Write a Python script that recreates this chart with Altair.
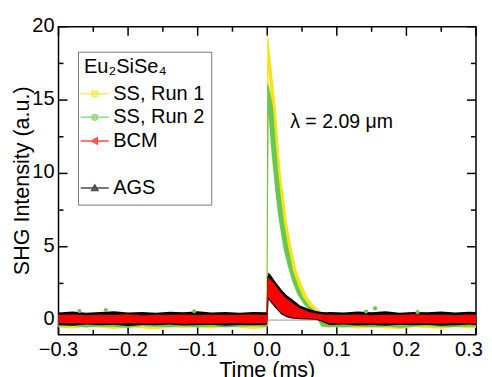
import altair as alt
import pandas as pd

FONT = "Liberation Sans"

# ---------------- data ----------------
SERIES = ["SS, Run 1", "SS, Run 2", "BCM", " ", "AGS"]
COLORS = ["#f7e21b", "#66c84f", "#ff0000", "transparent", "#000000"]
SHAPES = [
    "M-2,0H2M-0.4,-0.4H0.4V0.4H-0.4Z",
    "M-2,0H2M0.4,0A0.4,0.4,0,1,1,-0.4,0A0.4,0.4,0,1,1,0.4,0Z",
    "M-2,0H2M-0.45,0L0.35,-0.45L0.35,0.45Z",
    "M0,0",
    "M-2,0H2M0,-0.45L0.45,0.35L-0.45,0.35Z",
]
LEGEND_TITLE = "Eu\u2082SiSe\u2084"

# time grid of the noisy baselines (ms)
T_LEFT = [-0.30, -0.28, -0.26, -0.24, -0.22, -0.20, -0.18, -0.16, -0.14, -0.12,
          -0.10, -0.08, -0.06, -0.04, -0.02, -0.001]
T_RIGHT = [0.09, 0.11, 0.13, 0.15, 0.17, 0.19, 0.21, 0.23, 0.25, 0.27, 0.29, 0.30]

# SS, Run 1 (yellow): upper / lower envelope of the noisy trace
Y1_L_HI = [0.36, 0.31, 0.38, 0.30, 0.35, 0.33, 0.37, 0.31, 0.34, 0.36, 0.30, 0.35, 0.33, 0.38, 0.32, 0.35]
Y1_L_LO = [-0.50, -0.57, -0.47, -0.53, -0.60, -0.49, -0.55, -0.62, -0.48, -0.54, -0.51, -0.58, -0.46, -0.53, -0.60, -0.50]
Y1_D_T = [0.0, 0.002, 0.006, 0.012, 0.019, 0.028, 0.035, 0.042, 0.050, 0.058, 0.066, 0.075, 0.082]
Y1_D_HI = [19.5, 19.1, 17.2, 14.6, 10.2, 6.8, 4.9, 3.4, 2.4, 1.55, 1.05, 0.65, 0.45]
Y1_D_LO = [-0.5, 17.0, 14.0, 10.0, 7.0, 4.6, 3.3, 2.3, 1.5, 1.0, 0.6, 0.2, -0.50]
Y1_R_HI = [0.34, 0.37, 0.31, 0.36, 0.33, 0.38, 0.30, 0.35, 0.32, 0.37, 0.34, 0.33]
Y1_R_LO = [-0.52, -0.47, -0.58, -0.50, -0.55, -0.61, -0.48, -0.54, -0.59, -0.49, -0.56, -0.52]

# SS, Run 2 (green)
G_L_HI = [0.40, 0.44, 0.38, 0.42, 0.41, 0.37, 0.43, 0.39, 0.36, 0.44, 0.40, 0.38, 0.42, 0.37, 0.41, 0.39]
G_L_LO = [-0.45, -0.40, -0.50, -0.43, -0.47, -0.52, -0.41, -0.46, -0.49, -0.42, -0.48, -0.44, -0.51, -0.45, -0.40, -0.47]
G_D_T = [0.0, 0.002, 0.005, 0.008, 0.0115, 0.0155, 0.020, 0.0237, 0.030, 0.037, 0.044, 0.0515, 0.060, 0.068, 0.078]
G_D_HI = [16.2, 16.0, 15.3, 14.6, 12.5, 10.2, 8.2, 6.8, 5.0, 3.4, 2.4, 1.55, 1.0, 0.65, 0.45]
G_D_LO = [-0.45, 14.0, 12.0, 10.5, 8.8, 7.2, 5.8, 4.8, 3.6, 2.5, 1.7, 1.15, 0.7, 0.4, -0.45]
G_R_HI = [0.41, 0.38, 0.43, 0.39, 0.42, 0.37, 0.40, 0.44, 0.38, 0.41, 0.39, 0.40]
G_R_LO = [-0.46, -0.50, -0.42, -0.48, -0.44, -0.52, -0.45, -0.41, -0.49, -0.47, -0.43, -0.46]

# AGS (black)
K_L_HI = [0.52, 0.58, 0.50, 0.55, 0.60, 0.52, 0.56, 0.50, 0.57, 0.53, 0.61, 0.52, 0.55, 0.50, 0.56, 0.54]
K_L_LO = [-0.33, -0.38, -0.30, -0.35, -0.32, -0.40, -0.33, -0.36, -0.30, -0.37, -0.34, -0.31, -0.38, -0.33, -0.35, -0.32]
K_D_T = [0.0, 0.002, 0.006, 0.012, 0.020, 0.028, 0.035, 0.047, 0.060, 0.070, 0.078, 0.085]
K_D_HI = [2.9, 3.25, 3.0, 2.6, 2.1, 1.7, 1.45, 1.0, 0.75, 0.62, 0.56, 0.54]
K_D_LO = [-0.32, 1.4, 1.15, 0.8, 0.4, 0.2, 0.1, 0.06, 0.04, 0.02, -0.10, -0.25]
K_R_HI = [0.55, 0.51, 0.58, 0.53, 0.60, 0.50, 0.56, 0.54, 0.59, 0.52, 0.57, 0.55]
K_R_LO = [-0.34, -0.30, -0.37, -0.33, -0.39, -0.31, -0.36, -0.32, -0.38, -0.35, -0.30, -0.34]

# BCM (red)
R_L_HI = [0.35, 0.38, 0.33, 0.36, 0.34, 0.39, 0.32, 0.36, 0.35, 0.38, 0.33, 0.37, 0.34, 0.36, 0.38, 0.35]
R_L_LO = [-0.22, -0.20, -0.25, -0.21, -0.23, -0.19, -0.24, -0.22, -0.20, -0.25, -0.21, -0.23, -0.19, -0.22, -0.24, -0.21]
R_D_T = [0.0, 0.001, 0.006, 0.012, 0.020, 0.028, 0.035, 0.047, 0.060, 0.070, 0.078, 0.085]
R_D_HI = [2.6, 2.9, 2.7, 2.35, 1.85, 1.45, 1.2, 0.8, 0.55, 0.45, 0.40, 0.37]
R_D_LO = [-0.21, 1.55, 1.28, 0.92, 0.5, 0.3, 0.19, 0.13, 0.10, 0.08, -0.02, -0.15]
R_R_HI = [0.36, 0.34, 0.38, 0.33, 0.37, 0.35, 0.39, 0.34, 0.36, 0.33, 0.38, 0.35]
R_R_LO = [-0.22, -0.24, -0.20, -0.23, -0.21, -0.25, -0.19, -0.22, -0.24, -0.20, -0.23, -0.21]

# isolated green points above the baseline band
OUT_T = [-0.27, -0.232, -0.105, 0.142, 0.155, 0.216]
OUT_Y = [0.62, 0.68, 0.60, 0.58, 0.80, 0.55]

# peak of each trace (carries the legend)
PEAK_SERIES = ["SS, Run 1", "SS, Run 2", "BCM", "AGS"]
PEAK_T = [0.001, 0.001, 0.001, 0.002]
PEAK_Y = [19.5, 16.2, 2.9, 3.25]

ZERO = [0.0]

ANN_T = [0.033]
ANN_Y = [13.5]
ANN_TEXT = ["\u03bb = 2.09 \u03bcm"]

# axes: ticks, tick labels and titles
X_MAJOR = [-0.3, -0.2, -0.1, 0.0, 0.1, 0.2, 0.3]
X_LABELS = ["\u22120.3", "\u22120.2", "\u22120.1", "0.0", "0.1", "0.2", "0.3"]
X_MINOR = [-0.25, -0.15, -0.05, 0.05, 0.15, 0.25]
Y_MAJOR = [0, 5, 10, 15, 20]
Y_LABELS = ["0", "5", "10", "15", "20"]
Y_MINOR = [2.5, 7.5, 12.5, 17.5]
X_DOMAIN = [-0.3, 0.3]
Y_DOMAIN = [-1.0, 20.0]
X_TITLE = "Time (ms)"
Y_TITLE = "SHG Intensity (a.u.)"

# the page shrinks the chart by S to fit its width; every pixel size is given as px / S
S = 0.98


def px(v):
    return v / S


W, H = px(417.5), px(308)
MAJOR_LEN, MINOR_LEN = px(9), px(5)
LW = px(1.5)


# ---------------- build tables ----------------
def trace(name, lhi, llo, dt, dhi, dlo, rhi, rlo):
    return pd.DataFrame({
        "series": name,
        "t": T_LEFT + dt + T_RIGHT,
        "lo": llo + dlo + rlo,
        "hi": lhi + dhi + rhi,
    })


df_y1 = trace("SS, Run 1", Y1_L_HI, Y1_L_LO, Y1_D_T, Y1_D_HI, Y1_D_LO, Y1_R_HI, Y1_R_LO)
df_g = trace("SS, Run 2", G_L_HI, G_L_LO, G_D_T, G_D_HI, G_D_LO, G_R_HI, G_R_LO)
df_k = trace("AGS", K_L_HI, K_L_LO, K_D_T, K_D_HI, K_D_LO, K_R_HI, K_R_LO)
df_r = trace("BCM", R_L_HI, R_L_LO, R_D_T, R_D_HI, R_D_LO, R_R_HI, R_R_LO)
df_out = pd.DataFrame({"t": OUT_T, "y": OUT_Y})
df_peak = pd.DataFrame({"series": PEAK_SERIES, "t": PEAK_T, "y": PEAK_Y})
df_zero = pd.DataFrame({"y": ZERO})
df_ann = pd.DataFrame({"t": ANN_T, "y": ANN_Y, "label": ANN_TEXT})
df_xlab = pd.DataFrame({"v": X_MAJOR, "label": X_LABELS})
df_ylab = pd.DataFrame({"v": Y_MAJOR, "label": Y_LABELS})
df_xtitle = pd.DataFrame({"v": [sum(X_DOMAIN) / 2], "label": [X_TITLE]})
df_ytitle = pd.DataFrame({"v": [sum(Y_DOMAIN) / 2], "label": [Y_TITLE]})

X_SCALE = alt.Scale(domain=X_DOMAIN, nice=False, zero=False)
Y_SCALE = alt.Scale(domain=Y_DOMAIN, nice=False, zero=False)


def X(field):
    return alt.X(field, type="quantitative", scale=X_SCALE, axis=None)


def Y(field):
    return alt.Y(field, type="quantitative", scale=Y_SCALE, axis=None)


def band(df, color):
    return alt.Chart(df).mark_area(color=color, opacity=1, interpolate="linear").encode(
        x=X("t"), y=Y("lo"), y2="hi:Q",
    )


def xticks(values, length, side):
    y0, y1 = (H, H - length) if side == "bottom" else (0, length)
    return alt.Chart(pd.DataFrame({"v": values})).mark_rule(color="black", strokeWidth=LW).encode(
        x=X("v"), y=alt.value(y0), y2=alt.value(y1)
    )


def yticks(values, length, side):
    x0, x1 = (0, length) if side == "left" else (W, W - length)
    return alt.Chart(pd.DataFrame({"v": values})).mark_rule(color="black", strokeWidth=LW).encode(
        y=Y("v"), x=alt.value(x0), x2=alt.value(x1)
    )


ticks = [
    xticks(X_MAJOR, MAJOR_LEN, "bottom"), xticks(X_MINOR, MINOR_LEN, "bottom"),
    xticks(X_MAJOR, MAJOR_LEN, "top"), xticks(X_MINOR, MINOR_LEN, "top"),
    yticks(Y_MAJOR, MAJOR_LEN, "left"), yticks(Y_MINOR, MINOR_LEN, "left"),
    yticks(Y_MAJOR, MAJOR_LEN, "right"), yticks(Y_MINOR, MINOR_LEN, "right"),
]

txt = dict(font=FONT, color="black")

# x tick labels (the last one nudged inward so it stays on the page)
xlab_main = alt.Chart(df_xlab).transform_filter("datum.v < 0.25").mark_text(
    align="center", baseline="alphabetic", fontSize=px(20), **txt
).encode(x=X("v"), y=alt.value(H + px(21)), text="label:N")
xlab_last = alt.Chart(df_xlab).transform_filter("datum.v > 0.25").mark_text(
    align="center", baseline="alphabetic", fontSize=px(20), dx=px(-7), **txt
).encode(x=X("v"), y=alt.value(H + px(21)), text="label:N")
ylab = alt.Chart(df_ylab).mark_text(
    align="right", baseline="middle", fontSize=px(20), dy=px(-1), **txt
).encode(y=Y("v"), x=alt.value(px(-4)), text="label:N")
xtitle = alt.Chart(df_xtitle).mark_text(
    align="center", baseline="alphabetic", fontSize=px(21.5), **txt
).encode(x=X("v"), y=alt.value(H + px(42)), text="label:N")
ytitle = alt.Chart(df_ytitle).mark_text(
    align="center", baseline="alphabetic", fontSize=px(21.5), angle=270, **txt
).encode(y=Y("v"), x=alt.value(px(-30)), text="label:N")

zero_rule = alt.Chart(df_zero).mark_rule(color="#9a9a9a", strokeWidth=px(1)).encode(y=Y("y"))

yellow = band(df_y1, COLORS[0])
green = band(df_g, COLORS[1])
black = band(df_k, COLORS[4])
red = band(df_r, COLORS[2])

outliers = alt.Chart(df_out).mark_point(filled=True, shape="circle", size=px(18) / S,
                                        color=COLORS[1], opacity=1).encode(x=X("t"), y=Y("y"))

legend = alt.Legend(
    title=LEGEND_TITLE, orient="none", legendX=px(19.5), legendY=px(25), direction="vertical",
    padding=px(6), strokeColor="#777777", fillColor="white",
    symbolSize=px(14) ** 2, symbolStrokeWidth=LW, symbolOffset=px(0.75), labelOffset=px(8.5),
    rowPadding=px(3), titlePadding=px(6),
    labelFont=FONT, labelFontSize=px(20), labelColor="black",
    titleFont=FONT, titleFontSize=px(20), titleFontWeight="normal", titleColor="black",
)

peaks = alt.Chart(df_peak).mark_point(filled=True, size=0, strokeWidth=LW).encode(
    x=X("t"), y=Y("y"),
    fill=alt.Fill("series:N", scale=alt.Scale(domain=SERIES, range=COLORS), legend=legend),
    stroke=alt.Stroke("series:N", scale=alt.Scale(domain=SERIES, range=COLORS), legend=legend),
    shape=alt.Shape("series:N", scale=alt.Scale(domain=SERIES, range=SHAPES), legend=legend),
)

annotation = alt.Chart(df_ann).mark_text(align="left", baseline="middle",
                                         fontSize=px(19.5), **txt).encode(
    x=X("t"), y=Y("y"), text="label:N",
)

chart = (
    alt.layer(zero_rule, *ticks, yellow, green, black, red, outliers, peaks, annotation,
              xlab_main, xlab_last, ylab, xtitle, ytitle)
    .properties(
        width=W, height=H,
        padding={"left": px(50.5), "top": px(15), "right": px(8), "bottom": px(46)},
        autosize=alt.AutoSizeParams(type="none"),
        background="white",
    )
    .configure_view(stroke="black", strokeWidth=LW)
)

chart.save("out.html", embed_options={"renderer": "svg", "actions": False})
